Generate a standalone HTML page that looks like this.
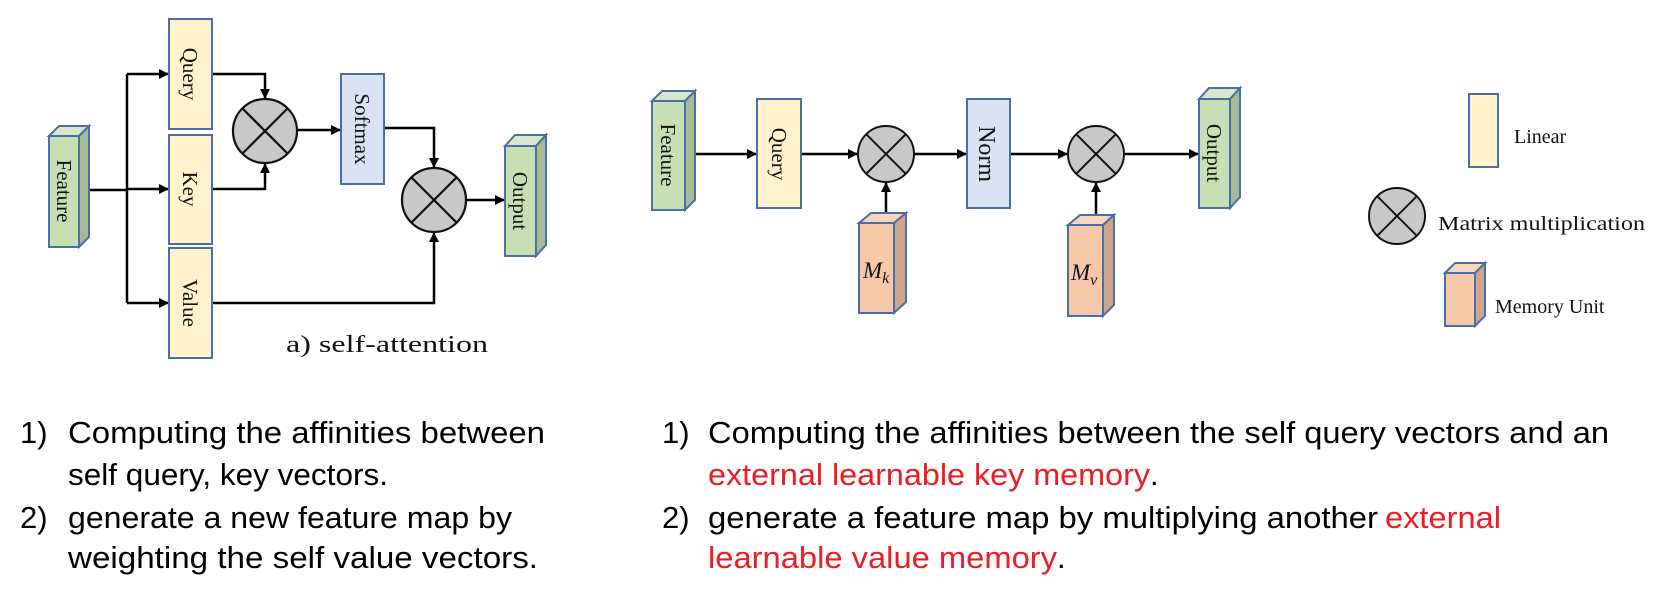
<!DOCTYPE html>
<html><head><meta charset="utf-8"><style>
html,body{margin:0;padding:0;background:#fff;}
svg{display:block;}
.s{font-family:"Liberation Serif",serif;font-size:21px;fill:#111;}
.t{font-family:"Liberation Sans",sans-serif;font-size:31px;fill:#000;}
.r{fill:#ee1c24;}
</style></head><body>
<svg width="1661" height="612" viewBox="0 0 1661 612" xmlns="http://www.w3.org/2000/svg">
<defs>
<marker id="a" markerWidth="10" markerHeight="10" refX="9" refY="5" orient="auto" markerUnits="userSpaceOnUse">
<path d="M0,0 L10,5 L0,10 z" fill="#000"/></marker>
<g id="cx"><circle r="1" fill="#c8c8c8" stroke="#111" stroke-width="0.07"/><path d="M-0.707,-0.707L0.707,0.707M0.707,-0.707L-0.707,0.707" stroke="#111" stroke-width="0.07"/></g>
</defs>
<g fill="none" stroke="#000" stroke-width="2.5">
<!-- left diagram connectors -->
<path d="M89,190 H127"/>
<path d="M127,74 V303"/>
<path d="M127,74 H168" marker-end="url(#a)"/>
<path d="M127,189 H168" marker-end="url(#a)"/>
<path d="M127,303 H168" marker-end="url(#a)"/>
<path d="M212,74 H265 V98" marker-end="url(#a)"/>
<path d="M212,189 H265 V164" marker-end="url(#a)"/>
<path d="M297,130 H340" marker-end="url(#a)"/>
<path d="M384,128 H434 V167" marker-end="url(#a)"/>
<path d="M212,303 H434 V233" marker-end="url(#a)"/>
<path d="M466,200 H504" marker-end="url(#a)"/>
<!-- right diagram connectors -->
<path d="M695,154 H756" marker-end="url(#a)"/>
<path d="M801,154 H857" marker-end="url(#a)"/>
<path d="M914,154 H966" marker-end="url(#a)"/>
<path d="M1010,154 H1067" marker-end="url(#a)"/>
<path d="M1124,154 H1198" marker-end="url(#a)"/>
<path d="M886,218 V183" marker-end="url(#a)"/>
<path d="M1096,220 V183" marker-end="url(#a)"/>
</g>
<g stroke="#4a6ea8" stroke-width="2">
<!-- left Feature -->
<path d="M49,136 L59,126 H89 L79,136 Z" fill="#d6e8c9"/>
<path d="M79,136 L89,126 V237 L79,247 Z" fill="#a6bb95"/>
<rect x="49" y="136" width="30" height="111" fill="#c6e0b4"/>
<!-- Query Key Value -->
<rect x="169" y="19" width="43" height="110" fill="#fff2cc"/>
<rect x="169" y="135" width="43" height="109" fill="#fff2cc"/>
<rect x="169" y="248" width="43" height="110" fill="#fff2cc"/>
<rect x="341" y="74" width="43" height="110" fill="#dae3f3"/>
<!-- left Output -->
<path d="M505,146 L515,135 H546 L536,146 Z" fill="#d6e8c9"/>
<path d="M536,146 L546,135 V245 L536,256 Z" fill="#a6bb95"/>
<rect x="505" y="146" width="31" height="110" fill="#c6e0b4"/>
<!-- right Feature -->
<path d="M652,101 L662,91 H695 L685,101 Z" fill="#d6e8c9"/>
<path d="M685,101 L695,91 V200 L685,210 Z" fill="#a6bb95"/>
<rect x="652" y="101" width="33" height="109" fill="#c6e0b4"/>
<rect x="757" y="99" width="44" height="109" fill="#fff2cc"/>
<rect x="967" y="99" width="43" height="109" fill="#dae3f3"/>
<!-- right Output -->
<path d="M1199,99 L1209,88 H1240 L1230,99 Z" fill="#d6e8c9"/>
<path d="M1230,99 L1240,88 V197 L1230,208 Z" fill="#a6bb95"/>
<rect x="1199" y="99" width="31" height="109" fill="#c6e0b4"/>
<!-- Mk -->
<path d="M859,223 L871,213 H906 L894,223 Z" fill="#f8d5bd"/>
<path d="M894,223 L906,213 V302 L894,313 Z" fill="#d0a68a"/>
<rect x="859" y="223" width="35" height="90" fill="#f4c8a9"/>
<!-- Mv -->
<path d="M1068,225 L1080,215 H1114 L1103,225 Z" fill="#f8d5bd"/>
<path d="M1103,225 L1114,215 V305 L1103,316 Z" fill="#d0a68a"/>
<rect x="1068" y="225" width="35" height="91" fill="#f4c8a9"/>
<!-- legend -->
<rect x="1469" y="94" width="29" height="73" fill="#fff2cc"/>
<path d="M1445,273 L1455,263 H1485 L1475,273 Z" fill="#f8d5bd"/>
<path d="M1475,273 L1485,263 V316 L1475,326 Z" fill="#d0a68a"/>
<rect x="1445" y="273" width="30" height="53" fill="#f4c8a9"/>
</g>
<!-- circles -->
<use href="#cx" transform="translate(265,131) scale(32)"/>
<use href="#cx" transform="translate(434,200) scale(32)"/>
<use href="#cx" transform="translate(886,154) scale(28)"/>
<use href="#cx" transform="translate(1096,154) scale(28)"/>
<use href="#cx" transform="translate(1397,216) scale(28)"/>
<!-- vertical labels -->
<g class="s" text-anchor="middle">
<text transform="translate(57,191) rotate(90)">Feature</text>
<text transform="translate(183,74) rotate(90)">Query</text>
<text transform="translate(183,189) rotate(90)">Key</text>
<text transform="translate(183,303) rotate(90)">Value</text>
<text transform="translate(355,129) rotate(90)">Softmax</text>
<text transform="translate(513,201) rotate(90)">Output</text>
<text transform="translate(661,155) rotate(90)">Feature</text>
<text transform="translate(772,154) rotate(90)">Query</text>
<text transform="translate(979,154) rotate(90)" style="font-size:24px">Norm</text>
<text transform="translate(1207,153) rotate(90)">Output</text>
</g>
<text class="s" x="863" y="278" style="font-style:italic;font-size:23px">M<tspan style="font-size:16px" dy="5">k</tspan></text>
<text class="s" x="1071" y="280" style="font-style:italic;font-size:23px">M<tspan style="font-size:16px" dy="5">v</tspan></text>
<text class="s" x="286" y="352" style="font-size:24px" textLength="202" lengthAdjust="spacingAndGlyphs">a) self-attention</text>
<text class="s" x="1514" y="143" style="font-size:20px">Linear</text>
<text class="s" x="1438" y="230" style="font-size:20px" textLength="207" lengthAdjust="spacingAndGlyphs">Matrix multiplication</text>
<text class="s" x="1495" y="313" style="font-size:20px">Memory Unit</text>
<!-- bottom text -->
<g class="t">
<text x="20" y="443">1)</text>
<text x="68" y="443" textLength="477" lengthAdjust="spacingAndGlyphs">Computing the affinities between</text>
<text x="68" y="485" textLength="320" lengthAdjust="spacingAndGlyphs">self query, key vectors.</text>
<text x="20" y="528">2)</text>
<text x="68" y="528" textLength="444" lengthAdjust="spacingAndGlyphs">generate a new feature map by</text>
<text x="68" y="568" textLength="470" lengthAdjust="spacingAndGlyphs">weighting the self value vectors.</text>
<text x="662" y="443">1)</text>
<text x="708" y="443" textLength="901" lengthAdjust="spacingAndGlyphs">Computing the affinities between the self query vectors and an</text>
<text x="708" y="485" class="t r" textLength="442" lengthAdjust="spacingAndGlyphs">external learnable key memory</text>
<text x="1150" y="485">.</text>
<text x="662" y="528">2)</text>
<text x="708" y="528" textLength="670" lengthAdjust="spacingAndGlyphs">generate a feature map by multiplying another</text>
<text x="1385" y="528" class="t r" textLength="116" lengthAdjust="spacingAndGlyphs">external</text>
<text x="708" y="568" class="t r" textLength="349" lengthAdjust="spacingAndGlyphs">learnable value memory</text>
<text x="1057" y="568">.</text>
</g>
</svg>
</body></html>
